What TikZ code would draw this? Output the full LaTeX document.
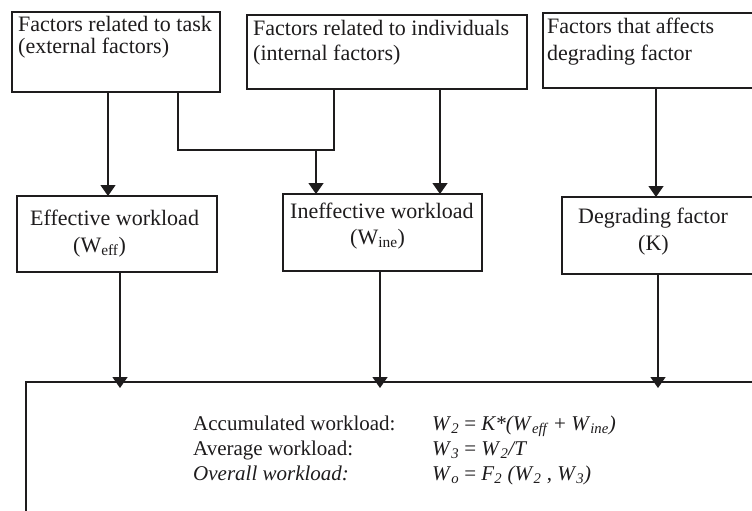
\documentclass[tikz,border=0pt]{standalone}
\usepackage{fontspec}
\setmainfont{Liberation Serif}
\usetikzlibrary{arrows.meta}
\definecolor{ink}{RGB}{30,28,29}
\tikzset{
  box/.style={draw=ink, rectangle, anchor=north west, inner sep=0pt, outer sep=0pt},
  topbox/.style={box, line width=2.2pt},
  midbox/.style={box, line width=1.6pt},
  txt/.style={anchor=base west, inner sep=0pt, text=ink, font=\fontsize{22}{24}\selectfont},
  eqtxt/.style={txt, font=\fontsize{21}{24}\selectfont},
  wire/.style={draw=ink, line width=1.4pt},
  arr/.style={wire, -{Triangle[width=15pt,length=11pt]}},
}
\newcommand{\itx}[1]{\textit{#1}}
\begin{document}
\begin{tikzpicture}[x=1pt,y=-1pt]
\useasboundingbox (0,0) rectangle (752,511);
\clip (0,0) rectangle (752,511);
\fill[white] (0,0) rectangle (752,511);

% input boxes
\node[topbox, minimum width=208pt, minimum height=80pt] (b1) at (12,12) {};
\node[topbox, minimum width=280pt, minimum height=74pt] (b2) at (247,15) {};
\node[topbox, minimum width=230pt, minimum height=75pt] (b3) at (543,13) {};
\node[txt] (b1a) at (18,32) {Factors related to task};
\node[txt] (b1b) at (18,54) {(external factors)};
\node[txt] (b2a) at (253,36) {Factors related to individuals};
\node[txt] (b2b) at (253,61) {(internal factors)};
\node[txt] (b3a) at (547,34) {Factors that affects};
\node[txt] (b3b) at (547,61) {degrading factor};

% workload components
\node[midbox, minimum width=200pt, minimum height=76pt] (eff) at (17,196) {};
\node[midbox, minimum width=199pt, minimum height=77pt] (ine) at (283,194) {};
\node[midbox, minimum width=210pt, minimum height=77pt] (deg) at (562,197) {};
\node[txt] (effa) at (30,225) {Effective workload};
\node[txt] (effb) at (73,252) {(W\textsubscript{eff})};
\node[txt] (inea) at (290,218) {Ineffective workload};
\node[txt] (ineb) at (350,244) {(W\textsubscript{ine})};
\node[txt] (dega) at (578,223) {Degrading factor};
\node[txt] (degb) at (638,250) {(K)};

% result box
\node[midbox, minimum width=760pt, minimum height=160pt] (res) at (26,382) {};
\node[eqtxt] (r1a) at (193,430) {Accumulated workload:};
\node[eqtxt] (r2a) at (193,455) {Average workload:};
\node[eqtxt] (r3a) at (193,480) {\itx{Overall workload:}};
\node[eqtxt] (r1b) at (432,430) {\itx{W}\textsubscript{\itx{2}} = \itx{K*(W}\textsubscript{\itx{eff}} + \itx{W}\textsubscript{\itx{ine}}\itx{)}};
\node[eqtxt] (r2b) at (432,455) {\itx{W}\textsubscript{\itx{3}} = \itx{W}\textsubscript{\itx{2}}\itx{/T}};
\node[eqtxt] (r3b) at (432,480) {\itx{W}\textsubscript{\itx{o}} = \itx{F}\textsubscript{\itx{2}} \itx{(W}\textsubscript{\itx{2}} , \itx{W}\textsubscript{\itx{3}}\itx{)}};

% connector columns
\coordinate (c1) at (108,0);
\coordinate (c2) at (178,0);
\coordinate (c3) at (334,0);
\coordinate (c4) at (316,0);
\coordinate (c5) at (440,0);
\coordinate (c6) at (656,0);
\coordinate (c7) at (120,0);
\coordinate (c8) at (380,0);
\coordinate (c9) at (658,0);
\coordinate (j) at (0,150);

\draw[arr] (b1.south -| c1) -- (eff.north -| c1);
\draw[wire] (b1.south -| c2) |- (j -| c3) -- (b2.south -| c3);
\draw[arr] (j -| c4) -- (ine.north -| c4);
\draw[arr] (b2.south -| c5) -- (ine.north -| c5);
\draw[arr] (b3.south -| c6) -- (deg.north -| c6);
\draw[arr, shorten >=-6pt] (eff.south -| c7) -- (res.north -| c7);
\draw[arr, shorten >=-6pt] (ine.south -| c8) -- (res.north -| c8);
\draw[arr, shorten >=-6pt] (deg.south -| c9) -- (res.north -| c9);
\end{tikzpicture}
\end{document}
